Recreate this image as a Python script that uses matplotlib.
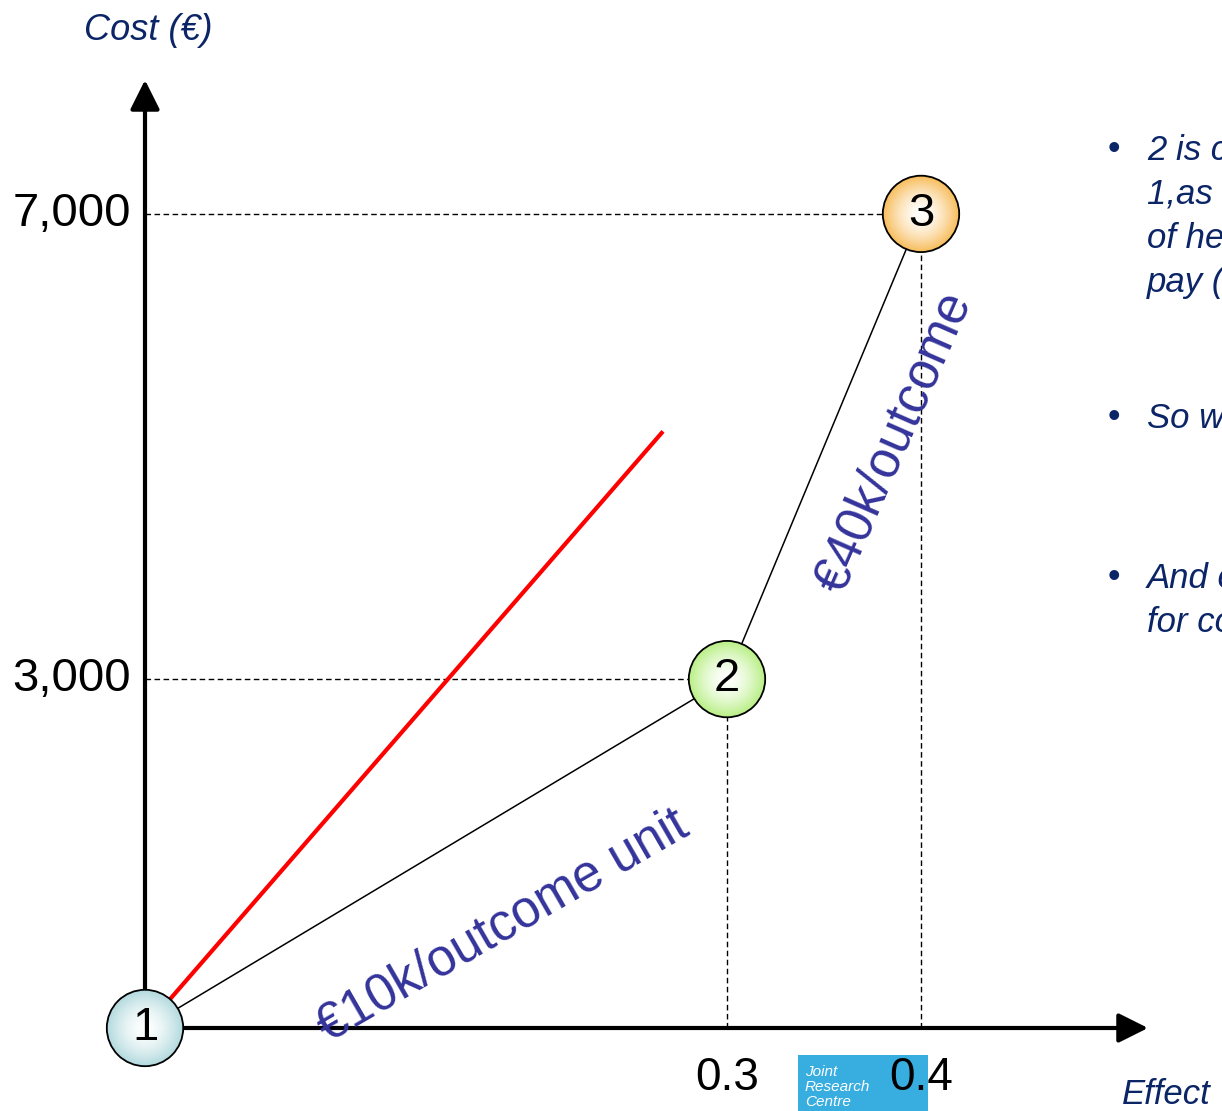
import numpy as np
import matplotlib
matplotlib.use("Agg")
import matplotlib.pyplot as plt
from matplotlib.colors import to_rgb
from matplotlib.patches import Rectangle

plt.rcParams['font.family'] = ['Liberation Sans', 'DejaVu Sans']

# options: effect gained vs. cost, relative to option 1
effects = [0.0, 0.3, 0.4]
costs = [0, 3000, 7000]
node_labels = ['1', '2', '3']
node_edge_colours = ['#b3dade', '#b9ef86', '#f7bd5c']

# willingness-to-pay threshold line (drawn from the origin)
wtp_end = (0.267, 5130)

ytick_values = [3000, 7000]
ytick_labels = ['3,000', '7,000']
xtick_values = [0.3, 0.4]
xtick_labels = ['0.3', '0.4']

segment_labels = ['€10k/outcome unit', '€40k/outcome']

bullets = [
    '2 is cost-effective compared to\n1,as it is below the threshold\nof health system willingness to\npay (€20k/outcome)',
    'So we choose option 2',
    'And option 3 is not good value\nfor cost',
]

NAVY = '#0b2567'
LABEL_BLUE = '#33339a'

W, H = 1222, 1111
fig = plt.figure(figsize=(W / 100, H / 100), dpi=100)
ax = fig.add_axes([0, 0, 1, 1])

# pixel <-> data mapping: x=0 at px 145, 1940 px per unit; y=0 at px 1028 (from top), 0.1163 px per euro
x0_px, sx = 145, 1940.0
y0_px, sy = 1028, 0.1163
ax.set_xlim(-x0_px / sx, (W - x0_px) / sx)
ax.set_ylim(-(H - y0_px) / sy, y0_px / sy)
ax.axis('off')

# institute logo in the bottom strip (kept under the tick labels)
ax.add_patch(Rectangle((798 / W, 0), 130 / W, 56 / H, transform=fig.transFigure,
                       facecolor='#38ade0', edgecolor='none', zorder=0.5))
ax.text(805 / W, 1 - 1087 / H, 'Joint\nResearch\nCentre', transform=fig.transFigure,
        ha='left', va='center', fontsize=11, style='italic', color='white',
        linespacing=1.1, zorder=0.6)

# axes with arrow heads
x_tip = (1148 - x0_px) / sx
y_tip = (y0_px - 80) / sy
for tip in [(x_tip, 0), (0, y_tip)]:
    ax.annotate('', xy=tip, xytext=(0, 0),
                arrowprops=dict(arrowstyle='-|>', lw=3.0, color='black',
                                mutation_scale=45, shrinkA=0, shrinkB=0),
                zorder=2)

# dashed guide lines
for ex, c in zip(effects[1:], costs[1:]):
    ax.plot([0, ex], [c, c], ls=(0, (4, 2.5)), color='black', lw=1.0, zorder=1)
    ax.plot([ex, ex], [0, c], ls=(0, (4, 2.5)), color='black', lw=1.0, zorder=1)

# tick labels
for v, t in zip(ytick_values, ytick_labels):
    ax.annotate(t, xy=(0, v), xytext=(-10, 0), textcoords='offset points',
                ha='right', va='center', fontsize=34, color='black')
for v, t in zip(xtick_values, xtick_labels):
    ax.annotate(t, xy=(v, 0), xytext=(0, -36), textcoords='offset points',
                ha='center', va='center', fontsize=33, color='black', zorder=6)

# WTP threshold line
ax.plot([0, wtp_end[0]], [0, wtp_end[1]], color='#ff0000', lw=3.0,
        solid_capstyle='butt', zorder=3)

# frontier connecting the options
ax.plot(effects, costs, color='black', lw=1.1, zorder=3)

# segment labels, rotated along each segment in screen space
fig.canvas.draw()
label_offsets = [(48, -52), (51, 3)]
for i, text in enumerate(segment_labels):
    p0 = ax.transData.transform((effects[i], costs[i]))
    p1 = ax.transData.transform((effects[i + 1], costs[i + 1]))
    ang = np.degrees(np.arctan2(p1[1] - p0[1], p1[0] - p0[0]))
    mid = ((effects[i] + effects[i + 1]) / 2, (costs[i] + costs[i + 1]) / 2)
    ax.annotate(text, xy=mid, xytext=label_offsets[i], textcoords='offset points',
                rotation=ang - 1.0, rotation_mode='anchor', ha='center', va='center',
                fontsize=37, color=LABEL_BLUE, zorder=4)

# nodes: radial gradient built from stacked discs
radius_pt = 27.5
n_steps = 40
for ex, c, lab, col in zip(effects, costs, node_labels, node_edge_colours):
    edge = np.array(to_rgb(col))
    centre = np.array([1.0, 1.0, 1.0])
    for k in range(n_steps):
        f = 1 - k / n_steps
        t = f ** 1.6
        rgb = centre + (edge - centre) * t
        ax.scatter([ex], [c], s=(2 * radius_pt * f) ** 2, color=rgb,
                   edgecolors='none', zorder=5)
    ax.scatter([ex], [c], s=(2 * radius_pt) ** 2, facecolors='none',
               edgecolors='black', linewidths=1.3, zorder=5)
    ax.text(ex, c, lab, ha='center', va='center', fontsize=34, color='black',
            zorder=6)

# axis titles
fig.text(148 / W, 1 - 31 / H, 'Cost (€)', ha='center', va='center',
         fontsize=26, style='italic', color=NAVY)
fig.text(1122 / W, 1 - 1094 / H, 'Effect', ha='left', va='center',
         fontsize=25, style='italic', color=NAVY)

# bullet notes on the right
bullet_tops = [152, 420, 580]
for top, txt in zip(bullet_tops, bullets):
    fig.text(1108 / W, 1 - (top - 2) / H, '•', ha='left', va='center',
             fontsize=26, color=NAVY)
    fig.text(1147 / W, 1 - (top - 18) / H, txt, ha='left', va='top',
             fontsize=25, style='italic', color=NAVY, linespacing=1.42)

fig.savefig('out.png', dpi=100)
